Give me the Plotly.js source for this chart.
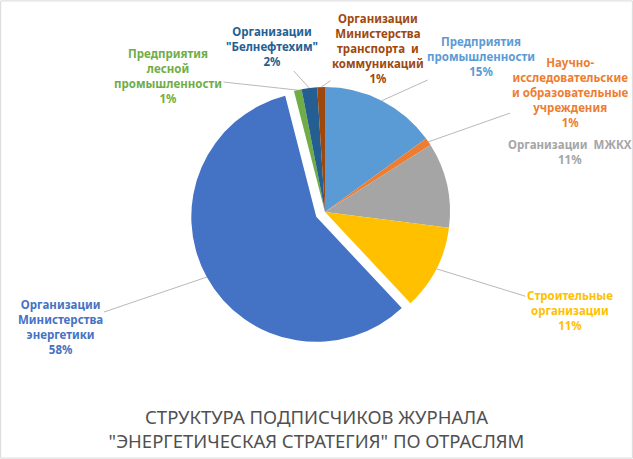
<!DOCTYPE html>
<html>
<head>
<meta charset="utf-8">
<script src="https://cdn.plot.ly/plotly-3.0.1.min.js"></script>
<style>body{margin:0;background:#fff}</style>
</head>
<body>
<div id="myDiv" style="width:633px;height:459px"></div>
<script>
// sectors, clockwise from 12 o'clock
var sectors = [
  'Предприятия<br>промышленности',
  'Научно-<br>исследовательские<br>и образовательные<br>учреждения',
  'Организации  МЖКХ',
  'Строительные<br>организации',
  'Организации<br>Министерства<br>энергетики',
  'Предприятия<br>лесной<br>промышленности',
  'Организации<br>"Белнефтехим"',
  'Организации<br>Министерства<br>транспорта  и<br>коммуникаций'
];
var shares = [15, 1, 11, 11, 58, 1, 2, 1];
var colors = ['#5B9BD5', '#ED7D31', '#A5A5A5', '#FFC000', '#4472C4', '#70AD47', '#255E91', '#9E480E'];
var pulls = [0, 0, 0, 0, 0.08, 0, 0, 0];

// where the labels sit (px from top-left) and whether they get a leader line
var labelPos = [[481, 56], [570, 92], [570, 152], [570, 310], [60, 327], [168, 76], [272, 47], [378, 48]];
var leader = [true, true, false, true, true, true, true, true];

var W = 633, H = 459;
var dom = { x: [0.3002, 0.7267], y: [0.244, 0.832] };

var pie = {
  type: 'pie',
  values: shares,
  labels: sectors,
  sort: false,
  direction: 'clockwise',
  rotation: 0,
  pull: pulls,
  marker: { colors: colors, line: { width: 0 } },
  textinfo: 'none',
  hoverinfo: 'label+percent',
  domain: dom,
  showlegend: false
};

// pie geometry, same as plotly works it out
var cx = (dom.x[0] + dom.x[1]) / 2 * W;
var cy = (1 - (dom.y[0] + dom.y[1]) / 2) * H;
var half = Math.min((dom.x[1] - dom.x[0]) * W, (dom.y[1] - dom.y[0]) * H) / 2;
var r = half / (1 + Math.max.apply(null, pulls));
var total = shares.reduce(function (a, b) { return a + b; }, 0);

var annotations = [];
var cum = 0;
for (var i = 0; i < shares.length; i++) {
  var th = (cum + shares[i] / 2) / total * 2 * Math.PI;
  cum += shares[i];
  var rr = r * (1 + pulls[i]);
  var px = cx + rr * Math.sin(th);
  var py = cy - rr * Math.cos(th);
  var pct = Math.round(shares[i] / total * 100) + '%';
  var a = {
    text: '<b>' + sectors[i] + '<br>' + pct + '</b>',
    font: { family: 'Noto Sans', size: 11.5, color: colors[i] },
    align: 'center',
    showarrow: leader[i],
    arrowhead: 0,
    arrowwidth: 0.8,
    arrowcolor: '#A6A6A6',
    standoff: 0,
    xref: 'paper',
    yref: 'paper'
  };
  if (leader[i]) {
    a.x = px / W; a.y = 1 - py / H;
    a.ax = labelPos[i][0] - px;
    a.ay = labelPos[i][1] - py;
  } else {
    a.x = labelPos[i][0] / W; a.y = 1 - labelPos[i][1] / H;
    a.xanchor = 'center'; a.yanchor = 'middle';
  }
  annotations.push(a);
}

var layout = {
  width: W,
  height: H,
  margin: { l: 0, r: 0, t: 0, b: 0 },
  paper_bgcolor: '#ffffff',
  title: {
    text: 'СТРУКТУРА ПОДПИСЧИКОВ ЖУРНАЛА<br>"ЭНЕРГЕТИЧЕСКАЯ СТРАТЕГИЯ" ПО ОТРАСЛЯМ',
    font: { family: 'Noto Sans', size: 18.5, color: '#505050' },
    x: 0.5,
    xanchor: 'center',
    y: 1 - 424 / H,
    yanchor: 'middle'
  },
  annotations: annotations,
  shapes: [{
    type: 'rect', xref: 'paper', yref: 'paper',
    x0: 0.001, x1: 0.999, y0: 0.002, y1: 0.998,
    line: { color: '#D9D9D9', width: 1 }
  }]
};

Plotly.newPlot('myDiv', [pie], layout, { displayModeBar: false });
</script>
</body>
</html>
